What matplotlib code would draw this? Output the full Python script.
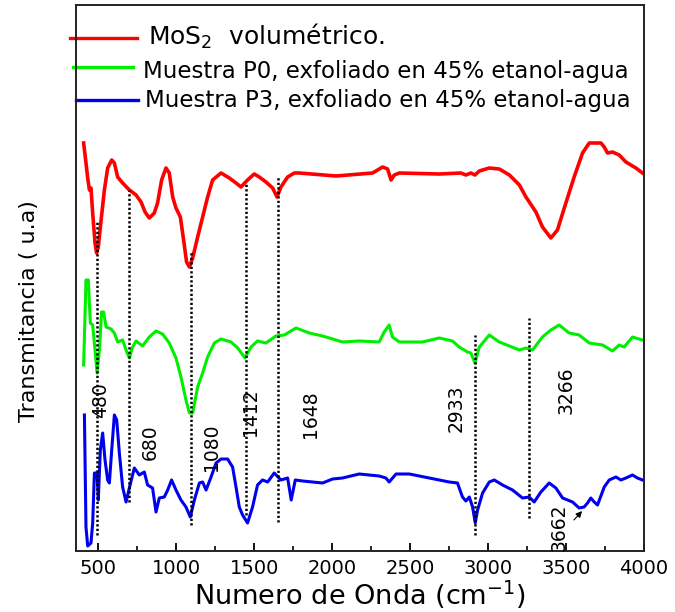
import matplotlib
matplotlib.use("Agg")
import matplotlib.pyplot as plt
from matplotlib.ticker import MultipleLocator

# FTIR spectra (wavenumber in cm-1, transmittance in arbitrary units, curves already offset)
red_x = [407, 422, 433, 444, 454, 465, 480, 490, 501, 519, 540, 561, 587, 604, 625, 657, 700, 743,
         775, 801, 828, 860, 881, 907, 935, 956, 978, 999, 1027, 1048, 1067, 1085, 1106, 1138, 1170,
         1202, 1234, 1288, 1341, 1384, 1416, 1458, 1501, 1533, 1576, 1619, 1647, 1672, 1715, 1758,
         1790, 2025, 2260, 2292, 2324, 2356, 2378, 2399, 2431, 2687, 2826, 2858, 2890, 2916, 2944,
         3008, 3072, 3137, 3201, 3243, 3307, 3349, 3403, 3445, 3499, 3552, 3606, 3649, 3681, 3724,
         3745, 3766, 3798, 3841, 3884, 3948, 3990]
red_y = [408, 388, 373, 361, 363, 338, 308, 298, 304, 331, 361, 383, 391, 388, 374, 368, 361, 356,
         349, 339, 333, 338, 348, 371, 383, 378, 354, 343, 334, 311, 289, 284, 293, 314, 334,
         354, 371, 378, 373, 368, 364, 371, 377, 374, 369, 363, 354, 364, 374, 378,
         378, 375, 378, 381, 384, 382, 371, 376, 378, 377, 378, 376, 378, 376, 380,
         383, 382, 376, 366, 354, 339, 324, 313, 321, 348, 374, 398, 408, 408, 408,
         404, 398, 399, 396, 389, 383, 378]

green_x = [407, 422, 437, 450, 465, 480, 493, 508, 522, 535, 551, 583, 604, 625, 657, 679, 700, 721,
           743, 785, 828, 871, 913, 956, 999, 1031, 1063, 1085, 1106, 1138, 1170, 1202, 1245, 1288,
           1352, 1395, 1442, 1480, 1522, 1576, 1640, 1694, 1747, 1769, 1854, 1939, 2067, 2174, 2302,
           2334, 2366, 2387, 2431, 2580, 2687, 2772, 2815, 2868, 2890, 2916, 2944, 3008, 3072, 3201,
           3243, 3285, 3349, 3403, 3456, 3520, 3584, 3649, 3734, 3798, 3841, 3873, 3926, 3990]
green_y = [186, 271, 271, 228, 226, 201, 178, 201, 239, 239, 224, 222, 218, 209, 211, 201, 193, 204,
           210, 205, 214, 220, 217, 208, 193, 174, 151, 138, 138, 164, 178, 194, 208, 212,
           209, 203, 193, 204, 210, 208, 215, 216, 221, 223, 218, 215, 209, 210, 209,
           219, 226, 214, 209, 209, 213, 210, 204, 199, 198, 188, 204, 216, 209, 201,
           203, 201, 214, 221, 226, 218, 216, 208, 206, 200, 206, 204, 214, 211]

blue_x = [412, 422, 433, 454, 465, 476, 493, 501, 514, 529, 544, 561, 572, 587, 604, 619, 636, 657,
          679, 700, 732, 764, 796, 817, 849, 871, 892, 924, 946, 971, 999, 1031, 1063, 1091, 1117,
          1149, 1170, 1192, 1224, 1256, 1288, 1330, 1362, 1384, 1405, 1426, 1458, 1490, 1522, 1554,
          1587, 1629, 1672, 1715, 1738, 1764, 1811, 1939, 2003, 2067, 2174, 2302, 2345, 2366, 2410,
          2495, 2623, 2751, 2804, 2836, 2858, 2880, 2901, 2918, 2933, 2965, 3008, 3040, 3093, 3157,
          3221, 3264, 3296, 3339, 3392, 3435, 3478, 3542, 3584, 3616, 3638, 3659, 3681, 3702, 3745,
          3777, 3820, 3852, 3884, 3926, 3958, 3990]
blue_y = [136, 24, 5, 8, 28, 78, 78, 51, 101, 118, 91, 71, 68, 101, 136, 131, 98, 64,
          49, 63, 83, 76, 79, 66, 63, 39, 53, 54, 61, 71, 61, 51, 44, 34, 51,
          68, 69, 61, 74, 88, 92, 92, 84, 64, 44, 36, 28, 44, 66, 71,
          69, 78, 71, 73, 51, 71, 70, 68, 72, 73, 77, 75, 73, 69, 77,
          77, 73, 69, 68, 54, 50, 54, 44, 28, 41, 58, 69, 71, 66, 61,
          53, 54, 49, 59, 68, 63, 53, 49, 43, 44, 48, 53, 49, 46, 64,
          71, 74, 71, 73, 76, 73, 71]

# marked bands: where the dotted guide is drawn, its vertical extent, and the printed label
band_x = [493, 700, 1095, 1448, 1651, 2918, 3264]
band_top = [331, 361, 299, 369, 374, 216, 233]
band_bottom = [16, 49, 26, 36, 29, 16, 33]
band_labels = ["480", "680", "1080", "1412", "1648", "2933", "3266"]
label_x = [514, 835, 1226, 1476, 1860, 2796, 3498]
label_y = [151, 109, 104, 139, 137, 143, 161]

series_labels = ["MoS$_2$  volumétrico.",
                 "Muestra P0, exfoliado en 45% etanol-agua",
                 "Muestra P3, exfoliado en 45% etanol-agua"]
series_colors = ["#ff0000", "#00ee00", "#0000ee"]

fig = plt.figure(figsize=(6.75, 6.12), dpi=100)
ax = fig.add_axes([76 / 675, 61 / 612, 568 / 675, 546 / 612])

ax.plot(red_x, red_y, color=series_colors[0], lw=2.6)
ax.plot(green_x, green_y, color=series_colors[1], lw=2.2)
ax.plot(blue_x, blue_y, color=series_colors[2], lw=2.2)

for bx, top, bot in zip(band_x, band_top, band_bottom):
    ax.plot([bx, bx], [bot, top], color="black", lw=1.8, linestyle=(0, (0.9, 0.9)))

for lx, ly, txt in zip(label_x, label_y, band_labels):
    ax.text(lx, ly, txt, rotation=90, ha="center", va="center", fontsize=13.5)

# 3662 band is labelled with a small arrow
ax.annotate("", xy=(3615, 42), xytext=(3539, 29),
            arrowprops=dict(arrowstyle="-|>", color="black", lw=0.8, mutation_scale=9))
ax.text(3456, 24, "3662", rotation=90, ha="center", va="center", fontsize=13.5)

# hand-placed legend (rows are unevenly spaced in the original, the first line pokes past the frame)
leg_line_x = [(-0.011, 0.107), (-0.005, 0.100), (0.0, 0.109)]
leg_line_y = [0.9396, 0.8870, 0.8260]
leg_text_x = [0.127, 0.118, 0.1215]
leg_text_y = [0.9267, 0.8669, 0.8138]
leg_sizes = [18, 16.5, 16.5]
for i in range(3):
    ax.plot(leg_line_x[i], [leg_line_y[i]] * 2, color=series_colors[i], lw=2.4,
            transform=ax.transAxes, clip_on=False)
    ax.text(leg_text_x[i], leg_text_y[i], series_labels[i], transform=ax.transAxes,
            fontsize=leg_sizes[i], ha="left", va="baseline")

ax.set_xlim(358, 4000)
ax.set_ylim(0, 546)
ax.set_yticks([])
ax.xaxis.set_major_locator(MultipleLocator(500))
ax.xaxis.set_minor_locator(MultipleLocator(250))
ax.tick_params(axis="x", which="major", direction="in", length=6, width=1.3, labelsize=14, pad=6)
ax.tick_params(axis="x", which="minor", direction="in", length=3.5, width=1.2)
for sp in ax.spines.values():
    sp.set_linewidth(1.4)
    sp.set_color("#222222")

ax.set_xlabel("Numero de Onda (cm$^{-1}$)", fontsize=19.5, labelpad=0)
ax.set_ylabel("Transmitancia ( u.a)", fontsize=16)
ax.yaxis.set_label_coords(-0.066, 0.44)

fig.savefig("out.png", dpi=100)
